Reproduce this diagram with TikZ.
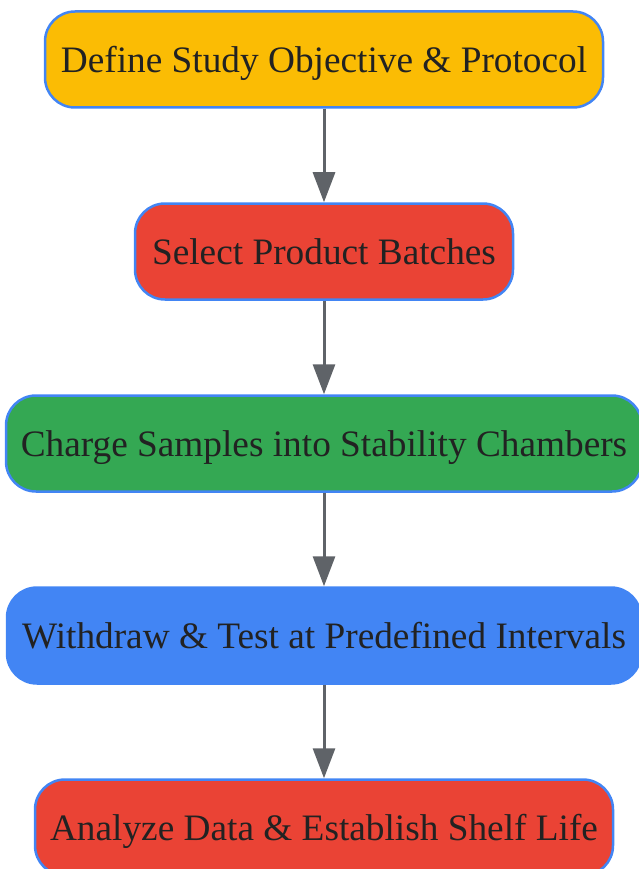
\documentclass[tikz,border=0pt]{standalone}
\usepackage{fontspec}
\setmainfont{Liberation Serif}
\usetikzlibrary{arrows.meta}
\definecolor{stepyellow}{HTML}{FBBC04}
\definecolor{stepred}{HTML}{EA4335}
\definecolor{stepgreen}{HTML}{34A853}
\definecolor{stepblue}{HTML}{4285F4}
\definecolor{edgegrey}{HTML}{5F6368}
\definecolor{labelink}{HTML}{222222}
\begin{document}
\begin{tikzpicture}[x=1pt,y=-1pt,
		stepbox/.style={draw=stepblue,line width=2.5pt,rounded corners=30pt,
			minimum height=96pt,inner xsep=0pt,text=labelink,
			text height=26.5pt,text depth=0pt,
			font=\fontsize{37.3}{44}\selectfont},
		flow/.style={draw=edgegrey,line width=3pt,-{Triangle[width=22pt,length=30pt]}}]
		\clip (0,0) rectangle (639,869);
		\useasboundingbox (0,0) rectangle (639,869);
		\node[stepbox,fill=stepyellow,minimum width=558pt] (define) at (324,59.5) {Define Study Objective \& Protocol};
		\node[stepbox,fill=stepred,minimum width=378pt] (select) at (324,251.5) {Select Product Batches};
		\node[stepbox,fill=stepgreen,minimum width=636pt] (charge) at (324,443.5) {Charge Samples into Stability Chambers};
		\node[stepbox,fill=stepblue,minimum width=634pt] (withdraw) at (324,635.5) {Withdraw \& Test at Predefined Intervals};
		\node[stepbox,fill=stepred,minimum width=578pt] (analyze) at (324,827.5) {Analyze Data \& Establish Shelf Life};
		\draw[flow] (define) -- (select);
		\draw[flow] (select) -- (charge);
		\draw[flow] (charge) -- (withdraw);
		\draw[flow] (withdraw) -- (analyze);
	\end{tikzpicture}
\end{document}
